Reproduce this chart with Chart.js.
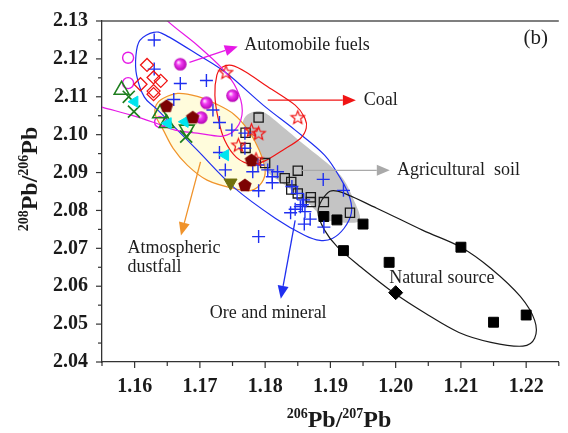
<!DOCTYPE html>
<html>
<head>
<meta charset="utf-8">
<script src="https://cdn.jsdelivr.net/npm/chart.js@4.4.1/dist/chart.umd.min.js"></script>
<style>
  html, body { margin: 0; padding: 0; background: #fff; overflow: hidden; }
  #wrap { position: relative; width: 569px; height: 433px; }
</style>
</head>
<body>
<div id="wrap"><canvas id="c"></canvas></div>
<script>
// Lead isotope ratios: x = 206Pb/207Pb, y = 208Pb/206Pb

// ---- sample series [x, y] ----
const oreMineral = [
  [1.1630, 2.1250], [1.1630, 2.1173], [1.1670, 2.1135], [1.1710, 2.1143], [1.1660, 2.1093],
  [1.1720, 2.1065], [1.1730, 2.1032], [1.1749, 2.1012], [1.1730, 2.0953], [1.1739, 2.0907],
  [1.1769, 2.0964], [1.1769, 2.1004], [1.1789, 2.0920], [1.1781, 2.0902], [1.1804, 2.0907],
  [1.1819, 2.0902], [1.1811, 2.0889], [1.1811, 2.0873], [1.1790, 2.0852], [1.1841, 2.0863],
  [1.1889, 2.0882], [1.1920, 2.0853], [1.1849, 2.0845], [1.1859, 2.0828], [1.1857, 2.0815],
  [1.1846, 2.0803], [1.1839, 2.0794], [1.1861, 2.0797], [1.1869, 2.0777], [1.1860, 2.0764],
  [1.1790, 2.0731], [1.1890, 2.0756], [1.1854, 2.0810]
];
const fuelSpheres = [[1.1670, 2.1186], [1.1710, 2.1084], [1.1750, 2.1103], [1.1702, 2.1045]];
const fuelRings = [[1.1590, 2.1203], [1.1590, 2.1136], [1.1639, 2.1033]];
const openDiamonds = [
  [1.1619, 2.1184], [1.1629, 2.1151], [1.1609, 2.1133], [1.1640, 2.1142], [1.1629, 2.1115], [1.1629, 2.1107]
];
const coalStars = [
  [1.1740, 2.1165], [1.1850, 2.1046], [1.1779, 2.1012], [1.1790, 2.1004], [1.1759, 2.0973], [1.1786, 2.0935]
];
const greenTriUp = [[1.1580, 2.1118], [1.1639, 2.1056], [1.1649, 2.1030]];
const greenTriDown = [[1.1680, 2.1014]];
const greenCrosses = [[1.1591, 2.1100], [1.1599, 2.1061], [1.1679, 2.0995]];
const cyanTri = [[1.1600, 2.1087], [1.1651, 2.1030], [1.1677, 2.1034], [1.1739, 2.0946]];
const pentagons = [[1.1649, 2.1076], [1.1689, 2.1046], [1.1779, 2.0933], [1.1769, 2.0867]];
const oliveTri = [[1.1747, 2.0873]];
const soilSquares = [
  [1.1790, 2.1045], [1.1770, 2.1005], [1.1770, 2.0965], [1.1800, 2.0925], [1.1850, 2.0905],
  [1.1830, 2.0885], [1.1840, 2.0875], [1.1840, 2.0855], [1.1850, 2.0845], [1.1870, 2.0835],
  [1.1870, 2.0822], [1.1890, 2.0822], [1.1930, 2.0794]
];
const naturalSquares = [
  [1.1890, 2.0784], [1.1910, 2.0775], [1.1950, 2.0764], [1.1920, 2.0694],
  [1.1990, 2.0663], [1.2100, 2.0703], [1.2150, 2.0505], [1.2200, 2.0524]
];
const naturalDiamond = [[1.2000, 2.0583]];

// ---- axis ticks ----
const xTickValues = [1.16, 1.17, 1.18, 1.19, 1.20, 1.21, 1.22];
const yTickValues = [2.04, 2.05, 2.06, 2.07, 2.08, 2.09, 2.10, 2.11, 2.12, 2.13];
const xTickLabels = ['1.16', '1.17', '1.18', '1.19', '1.20', '1.21', '1.22'];
const yTickLabels = ['2.04', '2.05', '2.06', '2.07', '2.08', '2.09', '2.10', '2.11', '2.12', '2.13'];

// ---- source field outlines (data coordinates) ----
const zoneOre = [
  [1.1602, 2.1209], [1.1608, 2.1249], [1.1629, 2.1270], [1.1648, 2.1262], [1.1696, 2.1212],
  [1.1741, 2.1162], [1.1797, 2.1078], [1.1846, 2.1012], [1.1891, 2.0946], [1.1917, 2.0880],
  [1.1930, 2.0832], [1.1932, 2.0792], [1.1921, 2.0753], [1.1903, 2.0726], [1.1884, 2.0721],
  [1.1861, 2.0734], [1.1816, 2.0779], [1.1752, 2.0861], [1.1696, 2.0959], [1.1636, 2.1064],
  [1.1615, 2.1099], [1.1603, 2.1157]
];
const zoneCoal = [
  [1.1726, 2.1157], [1.1734, 2.1178], [1.1749, 2.1183], [1.1771, 2.1165], [1.1801, 2.1130],
  [1.1846, 2.1078], [1.1861, 2.1043], [1.1863, 2.1017], [1.1854, 2.0990], [1.1827, 2.0959],
  [1.1801, 2.0932], [1.1779, 2.0922], [1.1756, 2.0940], [1.1738, 2.0985], [1.1728, 2.1043],
  [1.1723, 2.1104]
];
const zoneFuel = [
  [1.1546, 2.1394], [1.1621, 2.1355], [1.1651, 2.1299], [1.1696, 2.1236], [1.1734, 2.1175],
  [1.1756, 2.1122], [1.1765, 2.1064], [1.1756, 2.1017], [1.1735, 2.0996], [1.1696, 2.1004],
  [1.1662, 2.1012], [1.1633, 2.1030], [1.1596, 2.1051], [1.1551, 2.1072], [1.1502, 2.1096],
  [1.1457, 2.1143], [1.1472, 2.1302]
];
const zoneDust = [
  [1.1633, 2.1078], [1.1644, 2.1096], [1.1666, 2.1109], [1.1696, 2.1101], [1.1726, 2.1080],
  [1.1752, 2.1054], [1.1774, 2.1012], [1.1791, 2.0959], [1.1800, 2.0906], [1.1795, 2.0874],
  [1.1779, 2.0853], [1.1752, 2.0858], [1.1711, 2.0880], [1.1681, 2.0919], [1.1659, 2.0964],
  [1.1644, 2.1012], [1.1632, 2.1051]
];
const zoneSoil = [
  [1.1768, 2.1043], [1.1780, 2.1059], [1.1798, 2.1059], [1.1824, 2.1025], [1.1861, 2.0972],
  [1.1899, 2.0919], [1.1921, 2.0880], [1.1936, 2.0827], [1.1945, 2.0787], [1.1941, 2.0769],
  [1.1914, 2.0769], [1.1891, 2.0779], [1.1866, 2.0819], [1.1831, 2.0866], [1.1797, 2.0911],
  [1.1774, 2.0964], [1.1765, 2.1012]
];
const zoneNatural = [
  [1.1881, 2.0795], [1.1891, 2.0837], [1.1911, 2.0851], [1.1971, 2.0806], [1.2041, 2.0748],
  [1.2100, 2.0703], [1.2146, 2.0647], [1.2191, 2.0573], [1.2213, 2.0510], [1.2213, 2.0463],
  [1.2195, 2.0442], [1.2146, 2.0452], [1.2097, 2.0478], [1.2046, 2.0528], [1.1996, 2.0584],
  [1.1947, 2.0650], [1.1911, 2.0703], [1.1891, 2.0748]
];

// ---- callout labels and arrows (data coordinates) ----
const calloutText = ['Automobile fuels', 'Coal', 'Agricultural  soil', 'Atmospheric', 'dustfall', 'Ore and mineral', 'Natural source', '(b)'];
const calloutAnchor = [
  [1.1768, 2.1236], [1.1951, 2.1091], [1.2002, 2.0906], [1.1589, 2.0700], [1.1589, 2.0650],
  [1.1715, 2.0529], [1.1990, 2.0621], [1.2196, 2.1254]
];
const arrowFrom = [[1.1684, 2.1191], [1.1804, 2.1091], [1.1856, 2.0906], [1.1701, 2.0928], [1.1846, 2.0774]];
const arrowTo = [[1.1758, 2.1233], [1.1939, 2.1091], [1.1991, 2.0906], [1.1671, 2.0734], [1.1824, 2.0567]];
const arrowColor = ['#e619e6', '#f01414', '#a9a9a9', '#f0932b', '#1f2ff0'];

// ---- marker images ----
const SERIF = '"Liberation Serif", "Times New Roman", serif';

function markerCanvas(size, paint) {
  const c = document.createElement('canvas');
  c.width = size; c.height = size;
  paint(c.getContext('2d'), size / 2);
  return c;
}
const sphereImg = markerCanvas(15, (g, m) => {
  const gr = g.createRadialGradient(m - 2, m - 2, 0.5, m, m, 6.5);
  gr.addColorStop(0, '#ffe0ff');
  gr.addColorStop(0.35, '#f23cf2');
  gr.addColorStop(1, '#b000b0');
  g.fillStyle = gr;
  g.beginPath(); g.arc(m, m, 6.3, 0, Math.PI * 2); g.fill();
});
const pentagonImg = markerCanvas(16, (g, m) => {
  g.fillStyle = '#7d0303';
  g.beginPath();
  for (let i = 0; i < 5; i++) {
    const a = -Math.PI / 2 + i * 2 * Math.PI / 5;
    const px = m + 7 * Math.cos(a), py = m + 0.5 + 7 * Math.sin(a);
    i ? g.lineTo(px, py) : g.moveTo(px, py);
  }
  g.closePath(); g.fill();
});
const starImg = markerCanvas(17, (g, m) => {
  g.strokeStyle = '#f01414';
  g.lineWidth = 1.2;
  g.beginPath();
  for (let i = 0; i < 10; i++) {
    const a = -Math.PI / 2 + i * Math.PI / 5;
    const r = i % 2 ? 3.0 : 7.0;
    const px = m + r * Math.cos(a), py = m + 0.6 + r * Math.sin(a);
    i ? g.lineTo(px, py) : g.moveTo(px, py);
  }
  g.closePath(); g.stroke();
});

const pts = arr => arr.map(p => ({ x: p[0], y: p[1] }));

// ---- drawing helpers ----
function toPx(chart, p) {
  return [chart.scales.x.getPixelForValue(p[0]), chart.scales.y.getPixelForValue(p[1])];
}
function smoothClosed(ctx, P) {
  const n = P.length;
  ctx.beginPath();
  ctx.moveTo(P[0][0], P[0][1]);
  for (let i = 0; i < n; i++) {
    const p0 = P[(i - 1 + n) % n], p1 = P[i], p2 = P[(i + 1) % n], p3 = P[(i + 2) % n];
    ctx.bezierCurveTo(
      p1[0] + (p2[0] - p0[0]) / 6, p1[1] + (p2[1] - p0[1]) / 6,
      p2[0] - (p3[0] - p1[0]) / 6, p2[1] - (p3[1] - p1[1]) / 6,
      p2[0], p2[1]);
  }
  ctx.closePath();
}
function drawArrow(ctx, a, b, color) {
  const ang = Math.atan2(b[1] - a[1], b[0] - a[0]);
  const L = 13, W = 5.5;
  const bx = b[0] - L * Math.cos(ang), by = b[1] - L * Math.sin(ang);
  ctx.strokeStyle = color; ctx.lineWidth = 1.3;
  ctx.beginPath(); ctx.moveTo(a[0], a[1]); ctx.lineTo(bx, by); ctx.stroke();
  ctx.fillStyle = color;
  ctx.beginPath();
  ctx.moveTo(b[0], b[1]);
  ctx.lineTo(bx - W * Math.sin(ang), by + W * Math.cos(ang));
  ctx.lineTo(bx + W * Math.sin(ang), by - W * Math.cos(ang));
  ctx.closePath(); ctx.fill();
}
// isotope ratio title with superscript mass numbers, centred on the origin baseline
function drawRatioTitle(ctx, parts) {
  const big = 'bold 24px ' + SERIF, small = 'bold 14px ' + SERIF;
  let total = 0;
  parts.forEach(p => { ctx.font = p[1] ? small : big; total += ctx.measureText(p[0]).width; });
  let x = -total / 2;
  ctx.fillStyle = '#1a1a1a';
  ctx.textAlign = 'left';
  ctx.textBaseline = 'alphabetic';
  parts.forEach(p => {
    ctx.font = p[1] ? small : big;
    ctx.fillText(p[0], x, p[1] ? -9 : 0);
    x += ctx.measureText(p[0]).width;
  });
}

const fieldsPlugin = {
  id: 'fields',
  beforeDatasetsDraw(chart) {
    const { ctx, chartArea: ca } = chart;
    ctx.save();
    ctx.beginPath();
    ctx.rect(ca.left, ca.top, ca.right - ca.left, ca.bottom - ca.top);
    ctx.clip();
    const P = z => z.map(p => toPx(chart, p));
    // filled fields
    smoothClosed(ctx, P(zoneSoil)); ctx.fillStyle = '#c4c4c4'; ctx.fill();
    smoothClosed(ctx, P(zoneDust)); ctx.fillStyle = '#fffcdc'; ctx.fill();
    ctx.lineWidth = 1.2; ctx.strokeStyle = '#f0932b'; ctx.stroke();
    // outlined fields
    const outlines = [[zoneOre, '#1f2ff0'], [zoneCoal, '#f01414'], [zoneFuel, '#e619e6'], [zoneNatural, '#1a1a1a']];
    outlines.forEach(([z, col]) => {
      smoothClosed(ctx, P(z));
      ctx.lineWidth = 1.2; ctx.strokeStyle = col; ctx.stroke();
    });
    ctx.restore();
  },
  afterDatasetsDraw(chart) {
    const { ctx, chartArea: ca, scales } = chart;
    ctx.save();
    // arrows
    arrowFrom.forEach((f, i) => drawArrow(ctx, toPx(chart, f), toPx(chart, arrowTo[i]), arrowColor[i]));
    // callout text
    ctx.fillStyle = '#1e1e1e';
    ctx.textAlign = 'left';
    ctx.textBaseline = 'middle';
    calloutText.forEach((t, i) => {
      ctx.font = (t === '(b)' ? '21px ' : '18px ') + SERIF;
      const p = toPx(chart, calloutAnchor[i]);
      ctx.fillText(t, p[0], p[1]);
    });
    // top frame line
    ctx.strokeStyle = '#555';
    ctx.lineWidth = 1.5;
    ctx.beginPath(); ctx.moveTo(ca.left, ca.top); ctx.lineTo(ca.right, ca.top); ctx.stroke();
    // tick marks: long at labelled values, short between
    ctx.strokeStyle = '#333';
    ctx.lineWidth = 1.2;
    scales.x.ticks.forEach(t => {
      const x = scales.x.getPixelForValue(t.value);
      const len = t.label ? 6 : 4;
      ctx.beginPath(); ctx.moveTo(x, ca.bottom); ctx.lineTo(x, ca.bottom + len); ctx.stroke();
    });
    scales.y.ticks.forEach(t => {
      const y = scales.y.getPixelForValue(t.value);
      const len = t.label ? 6 : 4;
      ctx.beginPath(); ctx.moveTo(ca.left, y); ctx.lineTo(ca.left - len, y); ctx.stroke();
    });
    // axis titles
    ctx.save();
    ctx.translate(339, 427);
    drawRatioTitle(ctx, [['206', 1], ['Pb/', 0], ['207', 1], ['Pb', 0]]);
    ctx.restore();
    ctx.save();
    ctx.translate(37, 179);
    ctx.rotate(-Math.PI / 2);
    drawRatioTitle(ctx, [['208', 1], ['Pb/', 0], ['206', 1], ['Pb', 0]]);
    ctx.restore();
    ctx.restore();
  }
};

function tickLabel(values, labels, v) {
  const i = values.findIndex(t => Math.abs(t - v) < 1e-6);
  return i < 0 ? '' : labels[i];
}

const ds = (label, data, style) => Object.assign({ label, data: pts(data) }, style);

const datasets = [
  ds('Pentagon', pentagons, { pointStyle: pentagonImg, pointRadius: 7 }),
  ds('Automobile fuels', fuelSpheres, { pointStyle: sphereImg, pointRadius: 7 }),
  ds('Coal', coalStars, { pointStyle: starImg, pointRadius: 7 }),
  ds('Diamond', openDiamonds, { pointStyle: 'rectRot', pointRadius: 6.5, borderColor: '#f01414', backgroundColor: 'rgba(0,0,0,0)', borderWidth: 1.3 }),
  ds('Cyan', cyanTri, { pointStyle: 'triangle', rotation: -90, pointRadius: 6.5, borderColor: '#00e4ef', backgroundColor: '#00e4ef', borderWidth: 1 }),
  ds('Olive', oliveTri, { pointStyle: 'triangle', rotation: 180, pointRadius: 7.5, borderColor: '#6f6f0c', backgroundColor: '#6f6f0c', borderWidth: 1 }),
  ds('Green up', greenTriUp, { pointStyle: 'triangle', pointRadius: 8.5, borderColor: '#1f7f1f', backgroundColor: 'rgba(0,0,0,0)', borderWidth: 1.6 }),
  ds('Green down', greenTriDown, { pointStyle: 'triangle', rotation: 180, pointRadius: 8.5, borderColor: '#1f7f1f', backgroundColor: 'rgba(0,0,0,0)', borderWidth: 1.6 }),
  ds('Green cross', greenCrosses, { pointStyle: 'crossRot', pointRadius: 8.5, borderColor: '#1f7f1f', borderWidth: 1.7 }),
  ds('Ore and mineral', oreMineral, { pointStyle: 'cross', pointRadius: 6.5, borderColor: '#1f2ff0', borderWidth: 1.4 }),
  ds('Agricultural soil', soilSquares, { pointStyle: 'rect', pointRadius: 6.5, borderColor: '#1a1a1a', backgroundColor: 'rgba(0,0,0,0)', borderWidth: 1.3 }),
  ds('Natural source', naturalSquares, { pointStyle: 'rect', pointRadius: 7, borderColor: '#000', backgroundColor: '#000', borderWidth: 1 }),
  ds('Natural diamond', naturalDiamond, { pointStyle: 'rectRot', pointRadius: 7, borderColor: '#000', backgroundColor: '#000', borderWidth: 1 }),
  ds('Rings', fuelRings, { pointStyle: 'circle', pointRadius: 5.5, borderColor: '#e619e6', backgroundColor: 'rgba(0,0,0,0)', borderWidth: 1.4 })
];

new Chart(document.getElementById('c'), {
  type: 'scatter',
  data: { datasets },
  options: {
    responsive: true,
    maintainAspectRatio: false,
    animation: false,
    events: [],
    layout: { padding: { top: 21, right: 0, bottom: 0, left: 0 } },
    plugins: { legend: { display: false }, tooltip: { enabled: false } },
    scales: {
      x: {
        type: 'linear',
        min: 1.155, max: 1.225,
        afterFit: s => { s.height = 71; },
        grid: { display: false, drawTicks: true, tickLength: 6 },
        border: { display: true, color: '#333', width: 1.3 },
        ticks: {
          stepSize: 0.005, autoSkip: false, maxRotation: 0, padding: 7,
          color: '#1a1a1a', font: { family: SERIF, size: 20, weight: 'bold' },
          callback: v => tickLabel(xTickValues, xTickLabels, v)
        }
      },
      y: {
        type: 'linear',
        min: 2.04, max: 2.13,
        afterFit: s => { s.width = 102; },
        grid: { display: false, drawTicks: true, tickLength: 6 },
        border: { display: true, color: '#333', width: 1.3 },
        ticks: {
          stepSize: 0.005, autoSkip: false, padding: 8,
          color: '#1a1a1a', font: { family: SERIF, size: 20, weight: 'bold' },
          callback: v => tickLabel(yTickValues, yTickLabels, v)
        }
      }
    }
  },
  plugins: [fieldsPlugin]
});
</script>
</body>
</html>
